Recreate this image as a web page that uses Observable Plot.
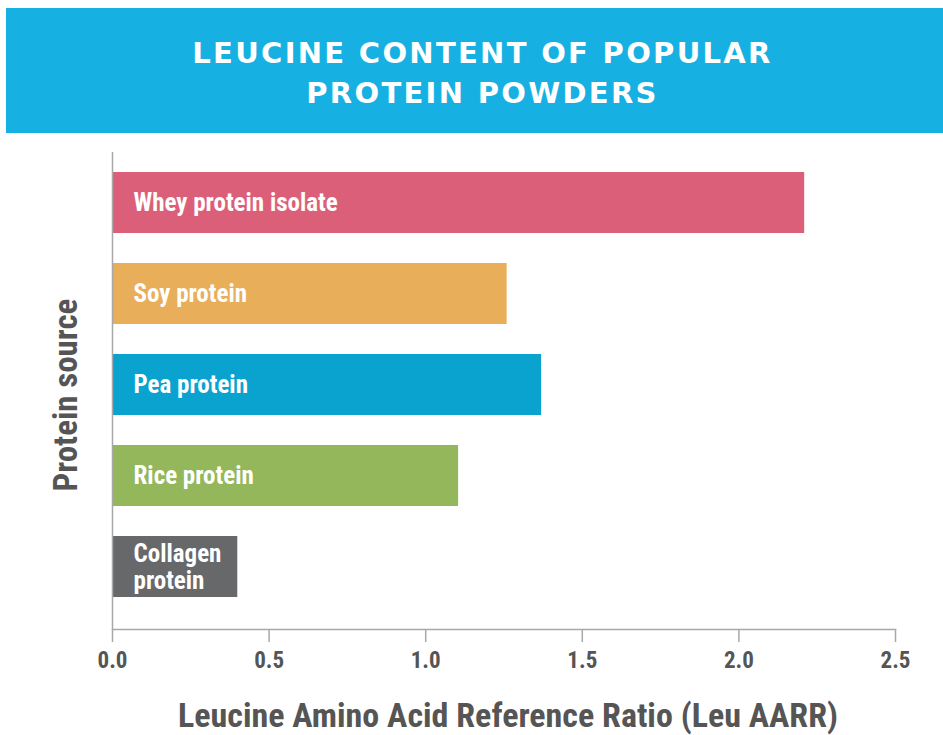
<!DOCTYPE html>
<html>
<head>
<meta charset="utf-8">
<script src="https://cdn.jsdelivr.net/npm/d3@7"></script>
<script src="https://cdn.jsdelivr.net/npm/@observablehq/plot@0.6"></script>
<style>
  html, body { margin: 0; padding: 0; background: #ffffff; }
  #wrap { position: relative; width: 943px; height: 735px; overflow: hidden; }
  #banner {
    position: absolute; left: 6px; top: 8px; width: 937px; height: 125px;
    background: #16b1e2; color: #ffffff;
    font-family: "DejaVu Sans", sans-serif; font-weight: bold;
    font-size: 29px; line-height: 40px; letter-spacing: 2.3px;
    text-align: center; box-sizing: border-box; padding-top: 25px; padding-left: 16px;
  }
  #chart { position: absolute; left: 0; top: 135px; }
</style>
</head>
<body>
<div id="wrap">
  <div id="banner">LEUCINE CONTENT OF POPULAR<br>PROTEIN POWDERS</div>
  <div id="chart"></div>
</div>
<script>
const sources = ["Whey protein isolate", "Soy protein", "Pea protein", "Rice protein", "Collagen protein"];
const labels = ["Whey protein isolate", "Soy protein", "Pea protein", "Rice protein", "Collagen\nprotein"];
const leuAARR = [2.21, 1.26, 1.37, 1.105, 0.40];
const colors = ["#dc5f79", "#e9ae59", "#0aa3d0", "#93b75a", "#66686a"];
const xTicks = [0, 0.5, 1.0, 1.5, 2.0, 2.5];
const xTitle = "Leucine Amino Acid Reference Ratio (Leu AARR)";
const yTitle = "Protein source";

const data = sources.map((s, i) => ({source: s, label: labels[i], value: leuAARR[i], color: colors[i]}));

const narrow = "'Liberation Sans Narrow', 'Roboto Condensed', Roboto, sans-serif";

const chart = Plot.plot({
  width: 943,
  height: 600,
  marginLeft: 112,
  marginRight: 48,
  marginTop: 17,
  marginBottom: 106,
  style: {fontFamily: narrow, background: "transparent"},
  x: {domain: [0, 2.5], axis: null},
  y: {domain: sources, range: [35, 463], paddingInner: 0.335, paddingOuter: 0, axis: null},
  marks: [
    Plot.barX(data, {y: "source", x1: 0, x2: "value", fill: "color"}),
    Plot.text(data, {y: "source", x: 0, text: "label", textAnchor: "start", dx: 21, fill: "#ffffff",
      fontSize: 25, fontWeight: 700, lineHeight: 1.05}),
    Plot.ruleX([0], {stroke: "#a8a8a8", strokeWidth: 1.5}),
    Plot.frame({anchor: "bottom", stroke: "#a8a8a8", strokeWidth: 1.5}),
    Plot.axisX(xTicks, {anchor: "bottom", tickSize: 13, tickPadding: 9, tickFormat: d3.format(".1f"),
      fontSize: 23, fontWeight: 700, fill: "#555555", stroke: "#a8a8a8", strokeWidth: 1.5, label: null}),
    Plot.text([xTitle], {frameAnchor: "bottom", textAnchor: "middle", dx: 4, dy: 97, fontSize: 34, fontWeight: 700, fill: "#555555"}),
    Plot.text([yTitle], {frameAnchor: "left", textAnchor: "middle", lineAnchor: "middle", dx: -46, dy: 4, rotate: -90,
      fontSize: 33, fontWeight: 700, fill: "#555555"})
  ]
});
document.getElementById("chart").appendChild(chart);
</script>
</body>
</html>
